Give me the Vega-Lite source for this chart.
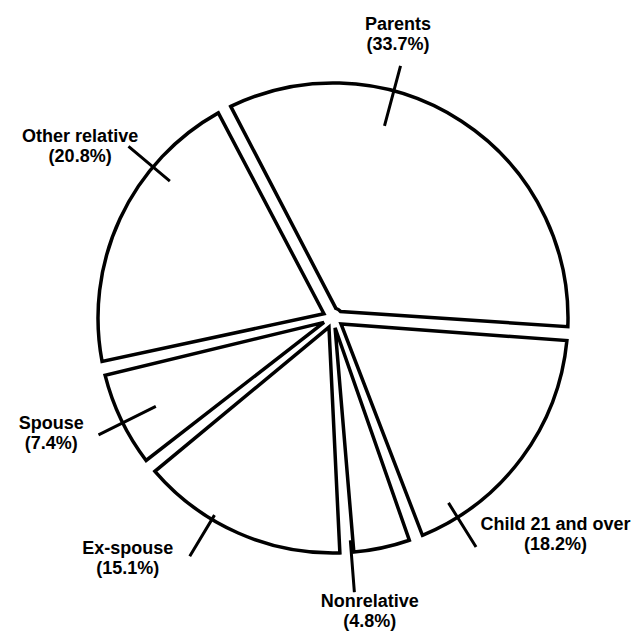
{
  "$schema": "https://vega.github.io/schema/vega-lite/v6.json",
  "width": 618,
  "height": 636,
  "autosize": {"type": "none"},
  "padding": {"left": 24, "top": 0, "right": 0, "bottom": 4},
  "background": "white",
  "config": {"view": {"stroke": null}},
  "data": {
    "values": [
      {"name": "Parents", "value": 33.7, "label": "Parents\n(33.7%)", "order": 1},
      {"name": "Child 21 and over", "value": 18.2, "label": "Child 21 and over\n(18.2%)", "order": 2},
      {"name": "Nonrelative", "value": 4.8, "label": "Nonrelative\n(4.8%)", "order": 3},
      {"name": "Ex-spouse", "value": 15.1, "label": "Ex-spouse\n(15.1%)", "order": 4},
      {"name": "Spouse", "value": 7.4, "label": "Spouse\n(7.4%)", "order": 5},
      {"name": "Other relative", "value": 20.8, "label": "Other relative\n(20.8%)", "order": 6}
    ]
  },
  "layer": [
    {
      "mark": {"type": "arc", "radius": 235, "radius2": 10, "padAngle": 0.0595, "stroke": "black", "strokeWidth": 3.5, "fill": "white"},
      "encoding": {
        "theta": {"field": "value", "type": "quantitative", "stack": true, "scale": {"domain": [0, 100], "range": [-0.48, 5.8032]}},
        "order": {"field": "order", "type": "quantitative"}
      }
    },
    {
      "mark": {"type": "arc", "radius": 261, "radius2": 199, "padAngle": 3, "thetaOffset": -0.317, "theta2Offset": -0.317, "stroke": "black", "strokeWidth": 3, "fill": "transparent"},
      "encoding": {
        "theta": {"field": "value", "type": "quantitative", "stack": true},
        "order": {"field": "order", "type": "quantitative"},
        "opacity": {"condition": {"test": "datum.name === 'Parents'", "value": 1}, "value": 0}
      }
    },
    {
      "mark": {"type": "arc", "radius": 270, "radius2": 218, "padAngle": 3, "thetaOffset": 0.374, "theta2Offset": 0.374, "stroke": "black", "strokeWidth": 3, "fill": "transparent"},
      "encoding": {
        "theta": {"field": "value", "type": "quantitative", "stack": true},
        "order": {"field": "order", "type": "quantitative"},
        "opacity": {"condition": {"test": "datum.name === 'Child 21 and over'", "value": 1}, "value": 0}
      }
    },
    {
      "mark": {"type": "arc", "radius": 275, "radius2": 223, "padAngle": 3, "thetaOffset": 0.132, "theta2Offset": 0.132, "stroke": "black", "strokeWidth": 3, "fill": "transparent"},
      "encoding": {
        "theta": {"field": "value", "type": "quantitative", "stack": true},
        "order": {"field": "order", "type": "quantitative"},
        "opacity": {"condition": {"test": "datum.name === 'Nonrelative'", "value": 1}, "value": 0}
      }
    },
    {
      "mark": {"type": "arc", "radius": 278, "radius2": 230, "padAngle": 3, "thetaOffset": 0.126, "theta2Offset": 0.126, "stroke": "black", "strokeWidth": 3, "fill": "transparent"},
      "encoding": {
        "theta": {"field": "value", "type": "quantitative", "stack": true},
        "order": {"field": "order", "type": "quantitative"},
        "opacity": {"condition": {"test": "datum.name === 'Ex-spouse'", "value": 1}, "value": 0}
      }
    },
    {
      "mark": {"type": "arc", "radius": 262, "radius2": 198, "padAngle": 3, "thetaOffset": -0.014, "theta2Offset": -0.014, "stroke": "black", "strokeWidth": 3, "fill": "transparent"},
      "encoding": {
        "theta": {"field": "value", "type": "quantitative", "stack": true},
        "order": {"field": "order", "type": "quantitative"},
        "opacity": {"condition": {"test": "datum.name === 'Spouse'", "value": 1}, "value": 0}
      }
    },
    {
      "mark": {"type": "arc", "radius": 267, "radius2": 213, "padAngle": 3, "thetaOffset": 0.261, "theta2Offset": 0.261, "stroke": "black", "strokeWidth": 3, "fill": "transparent"},
      "encoding": {
        "theta": {"field": "value", "type": "quantitative", "stack": true},
        "order": {"field": "order", "type": "quantitative"},
        "opacity": {"condition": {"test": "datum.name === 'Other relative'", "value": 1}, "value": 0}
      }
    },
    {
      "mark": {"type": "text", "radius": 300, "thetaOffset": -0.360, "fontSize": 18, "font": "Liberation Sans", "fontWeight": "bold", "lineBreak": "\n", "lineHeight": 20, "align": "center", "baseline": "middle", "color": "black"},
      "encoding": {
        "theta": {"field": "value", "type": "quantitative", "stack": true},
        "order": {"field": "order", "type": "quantitative"},
        "text": {"condition": {"test": "datum.name === 'Parents'", "field": "label", "type": "nominal"}, "value": ""}
      }
    },
    {
      "mark": {"type": "text", "radius": 304, "thetaOffset": 0.111, "fontSize": 18, "font": "Liberation Sans", "fontWeight": "bold", "lineBreak": "\n", "lineHeight": 20, "align": "center", "baseline": "middle", "color": "black"},
      "encoding": {
        "theta": {"field": "value", "type": "quantitative", "stack": true},
        "order": {"field": "order", "type": "quantitative"},
        "text": {"condition": {"test": "datum.name === 'Child 21 and over'", "field": "label", "type": "nominal"}, "value": ""}
      }
    },
    {
      "mark": {"type": "text", "radius": 286, "thetaOffset": 0.081, "fontSize": 18, "font": "Liberation Sans", "fontWeight": "bold", "lineBreak": "\n", "lineHeight": 20, "align": "center", "baseline": "middle", "color": "black"},
      "encoding": {
        "theta": {"field": "value", "type": "quantitative", "stack": true},
        "order": {"field": "order", "type": "quantitative"},
        "text": {"condition": {"test": "datum.name === 'Nonrelative'", "field": "label", "type": "nominal"}, "value": ""}
      }
    },
    {
      "mark": {"type": "text", "radius": 309, "thetaOffset": 0.311, "fontSize": 18, "font": "Liberation Sans", "fontWeight": "bold", "lineBreak": "\n", "lineHeight": 20, "align": "center", "baseline": "middle", "color": "black"},
      "encoding": {
        "theta": {"field": "value", "type": "quantitative", "stack": true},
        "order": {"field": "order", "type": "quantitative"},
        "text": {"condition": {"test": "datum.name === 'Ex-spouse'", "field": "label", "type": "nominal"}, "value": ""}
      }
    },
    {
      "mark": {"type": "text", "radius": 301, "thetaOffset": 0.089, "fontSize": 18, "font": "Liberation Sans", "fontWeight": "bold", "lineBreak": "\n", "lineHeight": 20, "align": "center", "baseline": "middle", "color": "black"},
      "encoding": {
        "theta": {"field": "value", "type": "quantitative", "stack": true},
        "order": {"field": "order", "type": "quantitative"},
        "text": {"condition": {"test": "datum.name === 'Spouse'", "field": "label", "type": "nominal"}, "value": ""}
      }
    },
    {
      "mark": {"type": "text", "radius": 311, "thetaOffset": 0.184, "fontSize": 18, "font": "Liberation Sans", "fontWeight": "bold", "lineBreak": "\n", "lineHeight": 20, "align": "center", "baseline": "middle", "color": "black"},
      "encoding": {
        "theta": {"field": "value", "type": "quantitative", "stack": true},
        "order": {"field": "order", "type": "quantitative"},
        "text": {"condition": {"test": "datum.name === 'Other relative'", "field": "label", "type": "nominal"}, "value": ""}
      }
    }
  ]
}
